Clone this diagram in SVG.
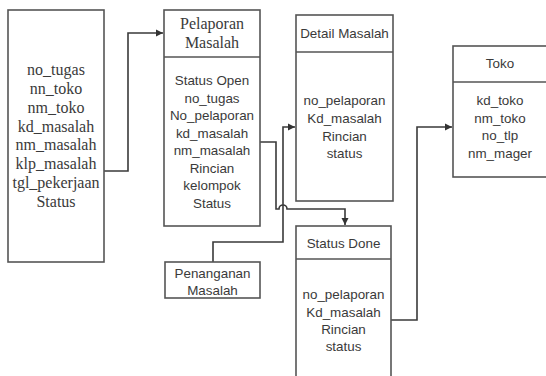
<svg xmlns="http://www.w3.org/2000/svg" width="546" height="376" viewBox="0 0 546 376">
<defs>
<marker id="arr" markerWidth="8" markerHeight="8" refX="7" refY="4" orient="auto" markerUnits="userSpaceOnUse">
<path d="M0,0.5 L7,4 L0,7.5 Z" fill="#333"/>
</marker>
<style>
.box{fill:#fff;stroke:#555;stroke-width:1.6}
.div{stroke:#555;stroke-width:1.6}
.serif{font-family:"Liberation Serif","Times New Roman",serif;font-size:16px;fill:#3a3a3a;text-anchor:middle}
.sans{font-family:"Liberation Sans",Arial,sans-serif;font-size:13.4px;fill:#3a3a3a;text-anchor:middle}
.conn{fill:none;stroke:#3a3a3a;stroke-width:1.6}
</style>
</defs>
<rect width="546" height="376" fill="#fff"/>
<g id="connectors">
<path class="conn" d="M104,171 H128 V33 H163" marker-end="url(#arr)"/>
<path class="conn" d="M213,262 V242 H283 V127 H295" marker-end="url(#arr)"/>
<path class="conn" d="M260,142 H276 V209 H279 A4,4 0 0 1 287,209 H345 V225" marker-end="url(#arr)"/>
<path class="conn" d="M391,320 H417 V127 H452" marker-end="url(#arr)"/>
</g>
<g id="tugas">
<rect class="box" x="8" y="10" width="96" height="252"/>
<text class="serif" x="56" y="75">no_tugas</text>
<text class="serif" x="56" y="94">nn_toko</text>
<text class="serif" x="56" y="113">nm_toko</text>
<text class="serif" x="56" y="132">kd_masalah</text>
<text class="serif" x="56" y="150">nm_masalah</text>
<text class="serif" x="56" y="169">klp_masalah</text>
<text class="serif" x="56" y="188">tgl_pekerjaan</text>
<text class="serif" x="56" y="207">Status</text>
</g>
<g id="pelaporan">
<rect class="box" x="164" y="10" width="96" height="216"/>
<line class="div" x1="164" y1="57" x2="260" y2="57"/>
<text class="serif" x="212" y="29">Pelaporan</text>
<text class="serif" x="212" y="48">Masalah</text>
<text class="sans" x="212" y="85">Status Open</text>
<text class="sans" x="212" y="103">no_tugas</text>
<text class="sans" x="212" y="120">No_pelaporan</text>
<text class="sans" x="212" y="138">kd_masalah</text>
<text class="sans" x="212" y="155">nm_masalah</text>
<text class="sans" x="212" y="173">Rincian</text>
<text class="sans" x="212" y="190">kelompok</text>
<text class="sans" x="212" y="208">Status</text>
</g>
<g id="detail">
<rect class="box" x="296" y="15" width="97" height="186"/>
<line class="div" x1="296" y1="52" x2="393" y2="52"/>
<text class="sans" x="344.5" y="38">Detail Masalah</text>
<text class="sans" x="344.5" y="105">no_pelaporan</text>
<text class="sans" x="344.5" y="123">Kd_masalah</text>
<text class="sans" x="344.5" y="141">Rincian</text>
<text class="sans" x="344.5" y="158">status</text>
</g>
<g id="toko">
<rect class="box" x="453" y="46" width="95" height="131"/>
<line class="div" x1="453" y1="82" x2="548" y2="82"/>
<text class="sans" x="500" y="68">Toko</text>
<text class="sans" x="500" y="105">kd_toko</text>
<text class="sans" x="500" y="123">nm_toko</text>
<text class="sans" x="500" y="140">no_tlp</text>
<text class="sans" x="500" y="158">nm_mager</text>
</g>
<g id="penanganan">
<rect class="box" x="165" y="262" width="95" height="36"/>
<text class="sans" x="212.5" y="278">Penanganan</text>
<text class="sans" x="212.5" y="295">Masalah</text>
</g>
<g id="done">
<rect class="box" x="296" y="226" width="95" height="160"/>
<line class="div" x1="296" y1="259" x2="391" y2="259"/>
<text class="sans" x="343.5" y="248">Status Done</text>
<text class="sans" x="343.5" y="299">no_pelaporan</text>
<text class="sans" x="343.5" y="317">Kd_masalah</text>
<text class="sans" x="343.5" y="334">Rincian</text>
<text class="sans" x="343.5" y="351">status</text>
</g>
</svg>
